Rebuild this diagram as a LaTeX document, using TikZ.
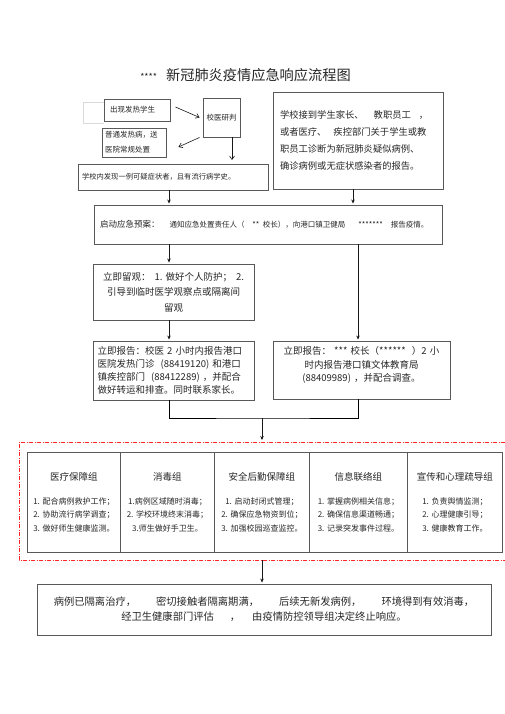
\documentclass[tikz,border=0pt]{standalone}
\usepackage{fontspec}
\setmainfont{Noto Sans CJK SC}
\usetikzlibrary{arrows.meta}

\newcommand{\fsz}[2]{\fontsize{#1}{#2}\selectfont}

\begin{document}
\begin{tikzpicture}[x=1pt, y=-1pt,
    box/.style={draw=black!65, line width=0.9pt, inner sep=3pt, text=black!85},
    arr/.style={-{Stealth[length=4pt, width=3.5pt]}, line width=0.6pt, draw=black!90},
    openarr/.style={-{Straight Barb[length=3.5pt, width=5pt]}, line width=0.6pt, draw=black!90},
    group/.style={box, anchor=north west, minimum height=100pt, align=center, font=\fsz{8}{13.5}},
    frame/.style={draw=red!85, line width=0.6pt, dash pattern=on 4pt off 1.5pt on 1pt off 1.5pt},
  ]
        \useasboundingbox (0,0) rectangle (505,714);

        % Title
        \node (title) [text=black!85] at (245.5,75) {{\fsz{9}{10}****}\hspace{9pt}{\fsz{14.2}{16}新冠肺炎疫情应急响应流程图}};

        % Nodes
        \draw[black!15, line width=0.6pt] (104,102) -- (83,102) -- (83,123) -- (104,123);
        \node (fever) [box, fill=white, minimum width=66pt, minimum height=22pt, text width=54pt, inner xsep=6pt, align=left, font=\fsz{7.5}{10}] at (137,110) {出现发热学生};
        \node (judge) [box, minimum width=37pt, minimum height=39pt, inner sep=1pt, font=\fsz{7.5}{10}] at (221.5,117.5) {校医研判};
        \node (normal) [box, minimum width=64pt, minimum height=29pt, text width=58pt, align=left, font=\fsz{7.5}{15}] at (134,142.5) {普通发热病，送\\医院常规处置};
        \node (suspect) [box, minimum width=190pt, minimum height=26pt, text width=182pt, inner xsep=4pt, align=left, font=\fsz{7.3}{10}] at (173,177) {学校内发现一例可疑症状者，且有流行病学史。};
        \node (report) [box, minimum width=170pt, minimum height=97pt, text width=156pt, inner xsep=7pt, align=left, font=\fsz{9.3}{17}] at (358,140.5) {学校接到学生家长、\hspace{10pt}教职员工\hspace{8pt}，\\或者医疗、\hspace{7pt}疾控部门关于学生或教\\职员工诊断为新冠肺炎疑似病例、\\确诊病例或无症状感染者的报告。};
        \node (plan) [box, minimum width=348pt, minimum height=39pt, text width=336pt, inner xsep=6pt, align=left] at (268,224.5) {{\fsz{8.5}{10}启动应急预案：}\hspace{10pt}{\fsz{7.5}{10}通知应急处置责任人（\hspace{8pt}** 校长），向港口镇卫健局\hspace{13pt}*******\hspace{8pt}报告疫情。}};
        \node (observe) [box, minimum width=161pt, minimum height=56pt, text width=150pt, align=center, font=\fsz{9.5}{15.5}] at (173.5,292) {立即留观：\hspace{4pt}1.~做好个人防护；\hspace{4pt}2.\\引导到临时医学观察点或隔离间\\留观};
        \node (reportL) [box, minimum width=161pt, minimum height=59pt, text width=152pt, inner xsep=4.5pt, align=left, font=\fsz{9.5}{13.2}] at (173.5,370.5) {立即报告：校医 2 小时内报告港口\\医院发热门诊 \hspace{3pt}(88419120) 和港口\\镇疾控部门 \hspace{3pt}(88412289) ，并配合\\做好转运和排查。同时联系家长。};
        \node (reportR) [box, minimum width=177pt, minimum height=58pt, text width=168pt, align=center, font=\fsz{9.5}{13.5}] at (361.5,370) {立即报告：\hspace{3pt}*** 校长（******\hspace{6pt}）2 小\\时内报告港口镇文体教育局\\(88409989) ，并配合调查。\\[-1.5pt]\mbox{}};

        % Groups
        \node (medical) [group, minimum width=93pt, text width=87pt] at (27,452) {{\fsz{9.5}{12}医疗保障组}\\[10pt]1.~配合病例救护工作；\\2.~协助流行病学调查；\\3.~做好师生健康监测。};
        \node (disinfect) [group, minimum width=94pt, text width=88pt] at (120,452) {{\fsz{9.5}{12}消毒组}\\[10pt]1.病例区域随时消毒；\\2.~学校环境终末消毒；\\3.师生做好手卫生。};
        \node (logistics) [group, minimum width=95pt, text width=89pt] at (214,452) {{\fsz{9.5}{12}安全后勤保障组}\\[10pt]1.~启动封闭式管理；\\2.~确保应急物资到位；\\3.~加强校园巡查监控。};
        \node (liaison) [group, minimum width=98pt, text width=92pt] at (309,452) {{\fsz{9.5}{12}信息联络组}\\[10pt]1.~掌握病例相关信息；\\2.~确保信息渠道畅通；\\3.~记录突发事件过程。};
        \node (publicity) [group, minimum width=95pt, text width=89pt] at (407,452) {{\fsz{9.5}{12}宣传和心理疏导组}\\[10pt]1.~负责舆情监测；\\2.~心理健康引导；\\3.~健康教育工作。};

        \node (finish) [box, minimum width=454pt, minimum height=51pt, text width=444pt, align=center, font=\fsz{10.3}{15}] at (264,609.5) {病例已隔离治疗，\hspace{20pt}密切接触者隔离期满，\hspace{20pt}后续无新发病例，\hspace{20pt}环境得到有效消毒，\\经卫生健康部门评估\hspace{16pt}，\hspace{12pt}由疫情防控领导组决定终止响应。};

        % Frame round the groups
        \coordinate (frameNE) at (505,442);
        \coordinate (frameSE) at (505,560);
        \draw[frame] (frameNE) -| (19,560) -- (frameSE);

        % Columns
        \coordinate (lcol) at (169,0);
        \coordinate (rcolA) at (353,0);
        \coordinate (rcolB) at (358,0);
        \coordinate (jdown) at (232,160);
        \coordinate (merge) at (262,418);

        % Edges
        \draw[openarr] ([shift={(5,-3)}]fever.east) -- ([xshift=-3pt]judge.west);
        \draw[openarr] ([xshift=-3pt]judge.south west) -- ([shift={(12,4.5)}]normal.east);
        \draw[openarr] (jdown |- judge.south) -- (jdown);
        \draw[arr, shorten >=1pt] (lcol |- suspect.south) -- (lcol |- plan.north);
        \draw[arr, shorten >=1pt] (rcolA |- report.south) -- (rcolA |- plan.north);
        \draw[arr, shorten >=1pt] (lcol |- plan.south) -- (lcol |- observe.north);
        \draw[arr, shorten >=1pt] (lcol |- observe.south) -- (lcol |- reportL.north);
        \draw[arr, shorten >=1pt] (rcolB |- plan.south) -- (rcolB |- reportR.north);
        \draw[line width=0.6pt] (lcol |- reportL.south) |- (merge) -| (rcolB |- reportR.south);
        \draw[arr, shorten >=2pt] (merge) -- (merge |- frameNE);
        \draw[arr, shorten >=1pt] (merge |- frameSE) -- (merge |- finish.north);
    \end{tikzpicture}
\end{document}
